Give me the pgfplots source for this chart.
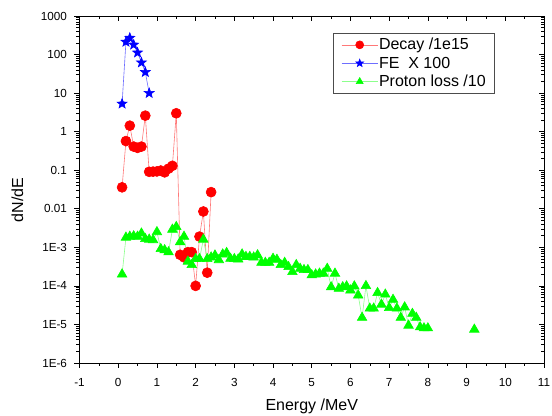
\documentclass[border=0pt]{standalone}
\usepackage{fontspec}
\setmainfont{Liberation Sans}
\usepackage{pgfplots}
\pgfplotsset{compat=1.18}
\definecolor{decayc}{RGB}{255,0,0}
\definecolor{decayl}{RGB}{255,120,120}
\definecolor{fec}{RGB}{0,0,255}
\definecolor{fel}{RGB}{110,110,255}
\definecolor{protc}{RGB}{0,255,0}
\definecolor{protl}{RGB}{140,255,140}

% filled five-pointed star
\pgfdeclareplotmark{fstar}{%
  \pgfpathmoveto{\pgfqpointpolar{90}{\pgfplotmarksize}}%
  \pgfpathlineto{\pgfqpointpolar{126}{0.42\pgfplotmarksize}}%
  \pgfpathlineto{\pgfqpointpolar{162}{\pgfplotmarksize}}%
  \pgfpathlineto{\pgfqpointpolar{198}{0.42\pgfplotmarksize}}%
  \pgfpathlineto{\pgfqpointpolar{234}{\pgfplotmarksize}}%
  \pgfpathlineto{\pgfqpointpolar{270}{0.42\pgfplotmarksize}}%
  \pgfpathlineto{\pgfqpointpolar{306}{\pgfplotmarksize}}%
  \pgfpathlineto{\pgfqpointpolar{342}{0.42\pgfplotmarksize}}%
  \pgfpathlineto{\pgfqpointpolar{18}{\pgfplotmarksize}}%
  \pgfpathlineto{\pgfqpointpolar{54}{0.42\pgfplotmarksize}}%
  \pgfpathclose
  \pgfusepathqfillstroke
}

\begin{document}
\begin{tikzpicture}
\begin{semilogyaxis}[
    scale only axis,
    width=464.5pt, height=347pt,
    xmin=-1, xmax=11,
    ymin=1e-6, ymax=1000,
    xtick={-1,0,...,11},
    minor x tick num=1,
    ytick={1e-6,1e-5,1e-4,1e-3,1e-2,1e-1,1,10,100,1000},
    major tick length=5pt,
    minor tick length=3pt,
    tick style={black, line width=0.6pt},
    axis line style={line width=0.8pt},
    xtick pos=left, ytick pos=left,
    tick align=outside,
    xticklabels={-1,0,1,2,3,4,5,6,7,8,9,10,11},
    yticklabels={1E-6,1E-5,1E-4,1E-3,0.01,0.1,1,10,100,1000},
    tick label style={font=\fontsize{11.7}{13}\selectfont},
    xticklabel shift=7pt,
    yticklabel shift=4pt,
    xlabel={Energy /MeV},
    ylabel={dN/dE},
    every axis x label/.style={at={(axis description cs:0.5,0)},anchor=base,
      yshift=-47.7pt, font=\fontsize{16}{18}\selectfont},
    every axis y label/.style={at={(axis description cs:0,0.47)},xshift=-62pt,
      rotate=90, anchor=center, font=\fontsize{16}{18}\selectfont},
    unbounded coords=jump,
    legend style={at={(0.546,0.951)}, anchor=north west,
      font=\fontsize{16}{18}\selectfont, draw=black!70, line width=0.6pt,
      row sep=3.5pt, inner xsep=8pt, inner ysep=4pt,
      nodes={inner sep=1pt}},
    legend cell align=left,
    legend image code/.code={
      \draw[mark repeat=2,mark phase=2,#1,mark size=4pt] plot coordinates {(0pt,0pt) (18pt,0pt) (36pt,0pt)};
    },
]
\addplot[color=decayl, line width=0.6pt, mark=*, mark size=5pt,
  mark options={draw=decayc, fill=decayc}] coordinates {
  (0.1,0.036) (0.2,0.57) (0.3,1.43) (0.4,0.41) (0.5,0.38) (0.6,0.41)
  (0.7,2.6) (0.8,0.091) (0.9,0.092) (1.0,0.093) (1.1,0.098) (1.2,0.088)
  (1.3,0.11) (1.4,0.13) (1.5,3.0) (1.6,6.4e-4) (1.7,5.5e-4) (1.8,7.5e-4)
  (1.9,7.5e-4) (2.0,1.0e-4) (2.1,1.9e-3) (2.2,8.5e-3) (2.3,2.2e-4) (2.4,0.027)
};
\addlegendentry{Decay /1e15}

\addplot[color=fel, line width=0.6pt, mark=fstar, mark size=5.2pt,
  mark options={draw=fec, fill=fec}] coordinates {
  (0.1,5.3) (0.2,213) (0.3,270) (0.4,180) (0.5,112) (0.6,62) (0.7,35) (0.8,10)
};
\addlegendentry{FE\ \ X 100}

\addplot[color=protl, line width=0.6pt, mark=triangle*, mark size=5.5pt,
  mark options={draw=protc, fill=protc}] coordinates {
  (0.1,2.0e-4) (0.2,1.8e-3) (0.3,1.9e-3) (0.4,1.95e-3) (0.5,1.9e-3) (0.6,2.3e-3)
  (0.7,1.66e-3) (0.8,1.6e-3) (0.9,1.55e-3) (1.0,2.5e-3) (1.1,9.1e-4) (1.2,8.5e-4)
  (1.3,7.5e-4) (1.4,2.9e-3) (1.5,3.4e-3) (1.6,1.37e-3) (1.7,1.9e-3) (1.8,4.3e-4)
  (1.9,3.5e-4) (2.0,5.0e-4) (2.1,5.0e-4) (2.2,1.6e-3) (2.3,5.0e-4) (2.4,5.5e-4)
  (2.5,6.2e-4) (2.6,4.7e-4) (2.7,6.6e-4) (2.8,7.2e-4) (2.9,5.1e-4) (3.0,5.0e-4)
  (3.1,4.9e-4) (3.2,6.6e-4) (3.3,5.7e-4) (3.4,5.7e-4) (3.5,5.5e-4) (3.6,6.3e-4)
  (3.7,4.0e-4) (3.8,4.0e-4) (3.9,4.0e-4) (4.0,5.1e-4) (4.1,4.8e-4) (4.2,3.5e-4)
  (4.3,4.0e-4) (4.4,3.1e-4) (4.5,2.3e-4) (4.6,3.5e-4) (4.7,2.8e-4) (4.8,2.6e-4)
  (4.9,2.6e-4) (5.0,1.9e-4) (5.1,2.0e-4) (5.2,2.1e-4) (5.3,2.1e-4) (5.4,2.8e-4)
  (5.5,9.3e-5) (5.6,2.1e-4) (5.7,8.5e-5) (5.8,9.3e-5) (5.9,9.8e-5) (6.0,7.7e-5)
  (6.1,9.8e-5) (6.2,5.7e-5) (6.3,1.5e-5) (6.4,1.0e-4) (6.5,2.6e-5) (6.6,2.6e-5)
  (6.7,6.6e-5) (6.8,3.3e-5) (6.9,6.0e-5) (7.0,2.7e-5) (7.1,4.4e-5) (7.2,2.6e-5)
  (7.3,1.5e-5) (7.4,2.8e-5) (7.5,9.4e-6) (7.6,1.9e-5) (7.7,1.5e-5) (7.8,8.5e-6)
  (7.9,8.0e-6) (8.0,8.0e-6) (8.5,nan) (9.2,7.4e-6)
};
\addlegendentry{Proton loss /10}
\end{semilogyaxis}
\begin{semilogyaxis}[
    scale only axis,
    width=464.5pt, height=347pt,
    xmin=-1, xmax=11,
    ymin=1e-6, ymax=1000,
    xtick={-1,0,...,11},
    minor x tick num=1,
    ytick={1e-6,1e-5,1e-4,1e-3,1e-2,1e-1,1,10,100,1000},
    major tick length=5pt,
    minor tick length=3pt,
    tick style={black, line width=0.6pt},
    axis line style={line width=0.8pt},
    xtick pos=right, ytick pos=right,
    tick align=inside,
    xticklabels={}, yticklabels={},
]
\end{semilogyaxis}
\pgfresetboundingbox
\path ([xshift=-79.5pt,yshift=-53pt]current axis.south west) rectangle ([xshift=8pt,yshift=16pt]current axis.north east);
\end{tikzpicture}
\end{document}
